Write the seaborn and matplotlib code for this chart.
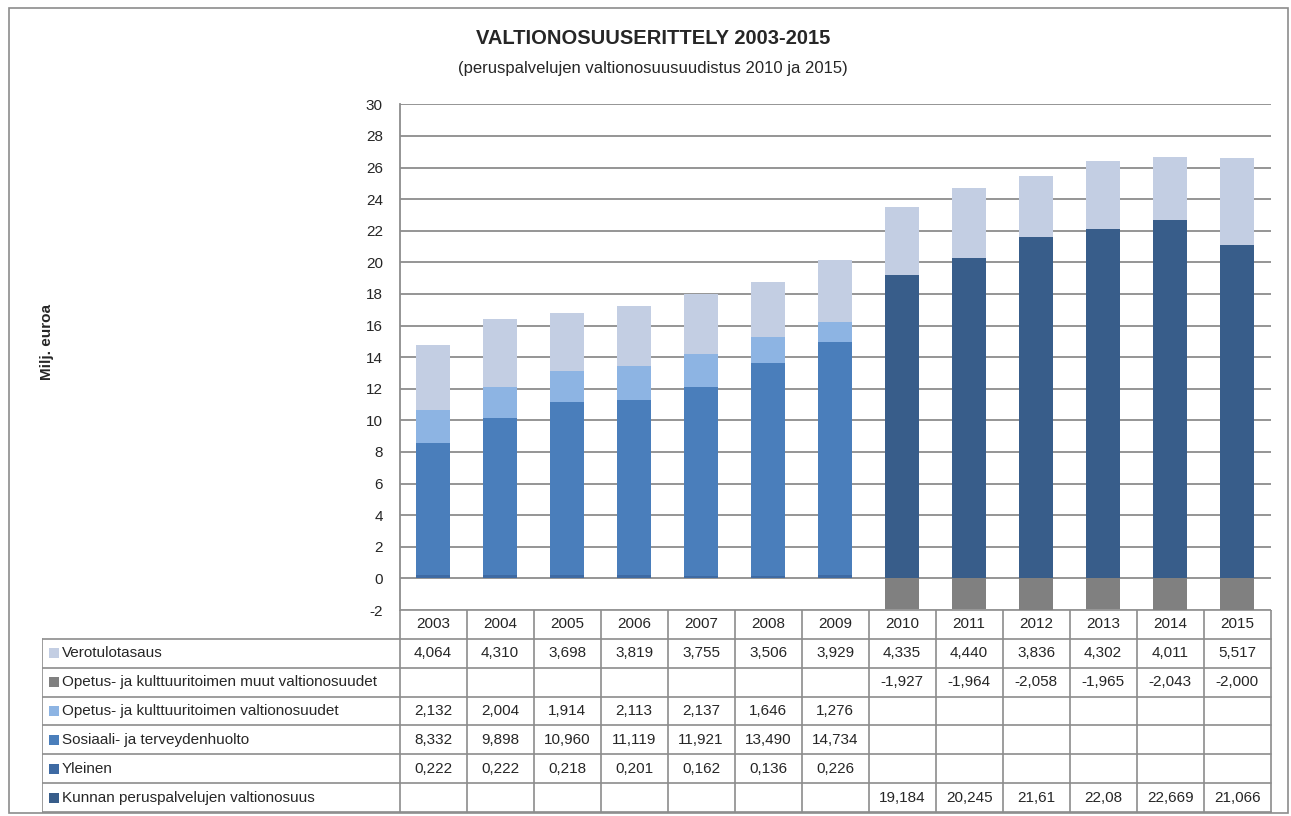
# valtionosuudet 2003-2015, stacked bars + Excel-style data table underneath
import numpy as np
import pandas as pd
import matplotlib
matplotlib.use("Agg")
import matplotlib.pyplot as plt
from matplotlib.patches import Rectangle
import seaborn as sns

years = ["2003", "2004", "2005", "2006", "2007", "2008", "2009",
         "2010", "2011", "2012", "2013", "2014", "2015"]

# series values (milj. euroa), None = no value that year
verotulotasaus = [4.064, 4.310, 3.698, 3.819, 3.755, 3.506, 3.929,
                  4.335, 4.440, 3.836, 4.302, 4.011, 5.517]
opetus_muut = [None, None, None, None, None, None, None,
               -1.927, -1.964, -2.058, -1.965, -2.043, -2.000]
opetus_vo = [2.132, 2.004, 1.914, 2.113, 2.137, 1.646, 1.276,
             None, None, None, None, None, None]
sosiaali = [8.332, 9.898, 10.960, 11.119, 11.921, 13.490, 14.734,
            None, None, None, None, None, None]
yleinen = [0.222, 0.222, 0.218, 0.201, 0.162, 0.136, 0.226,
           None, None, None, None, None, None]
kunnan = [None, None, None, None, None, None, None,
          19.184, 20.245, 21.61, 22.08, 22.669, 21.066]

series_names = ["Verotulotasaus",
                "Opetus- ja kulttuuritoimen muut valtionosuudet",
                "Opetus- ja kulttuuritoimen valtionosuudet",
                "Sosiaali- ja terveydenhuolto",
                "Yleinen",
                "Kunnan peruspalvelujen valtionosuus"]
series_vals = [verotulotasaus, opetus_muut, opetus_vo, sosiaali, yleinen, kunnan]
series_colors = ["#C3CEE3", "#808080", "#8DB4E3", "#4A7EBB", "#3E6AA3", "#385D8A"]

title = "VALTIONOSUUSERITTELY 2003-2015"
subtitle = "(peruspalvelujen valtionosuusuudistus 2010 ja 2015)"
ylabel = "Milj. euroa"

sns.set_style("white")
plt.rcParams["font.family"] = ["Liberation Sans", "DejaVu Sans"]
plt.rcParams["axes.unicode_minus"] = False

W, H = 1291, 816
fig = plt.figure(figsize=(W / 100, H / 100), dpi=100)


def px_axes(x0, y0, x1, y1):
    # pixel box (top-left origin) -> figure axes
    return fig.add_axes([x0 / W, 1 - y1 / H, (x1 - x0) / W, (y1 - y0) / H])


PL, PT, PR, PB = 399.5, 104.3, 1270.7, 610.0
ax = px_axes(PL, PT, PR, PB)

arr = lambda s: np.array([np.nan if v is None else v for v in s], dtype=float)
v_vero, v_muut, v_opet, v_sos, v_yl, v_kun = [np.nan_to_num(arr(s)) for s in series_vals]

# cumulative tops, drawn from the top layer down so each one covers the one above
cum_base = v_yl + v_kun
cum_sos = cum_base + v_sos
cum_opet = cum_sos + v_opet
cum_vero = cum_opet + v_vero

layers = [(cum_vero, series_colors[0]), (cum_opet, series_colors[2]),
          (cum_sos, series_colors[3]), (v_kun, series_colors[5]),
          (v_yl, series_colors[4]), (v_muut, series_colors[1])]
for vals, col in layers:
    df = pd.DataFrame({"year": years, "value": vals})
    sns.barplot(data=df, x="year", y="value", color=col, width=0.5,
                saturation=1, linewidth=0, ax=ax, zorder=3)

ax.set_xlim(-0.5, len(years) - 0.5)
ax.set_ylim(-2, 30)
ax.set_yticks(np.arange(-2, 31, 2))
ax.set_xticks([])
ax.set_xlabel("")
ax.set_ylabel("")
ax.grid(axis="y", color="#8C8C8C", linewidth=1.3, zorder=0)
ax.set_axisbelow(True)
for side in ["top", "right", "bottom"]:
    ax.spines[side].set_visible(False)
ax.spines["left"].set_color("#8C8C8C")
ax.spines["left"].set_linewidth(1.3)
ax.tick_params(axis="y", length=0, pad=12, labelsize=11)

# data table
TL, TR = 41.7, PR
row_h = 28.85
tax = px_axes(TL, PB, TR + 1, PB + row_h * 7 + 1)
tax.set_xlim(TL, TR + 1)
tax.set_ylim(PB + row_h * 7 + 1, PB)
tax.axis("off")

col_w = (PR - PL) / len(years)
line_kw = dict(color="#8C8C8C", linewidth=1.2)
# header row with years
tax.plot([PL, PR], [PB, PB], **line_kw)
for i, yr in enumerate(years):
    cx = PL + col_w * (i + 0.5)
    tax.text(cx, PB + row_h / 2, yr, ha="center", va="center", fontsize=11)
# horizontal lines
for r in range(1, 8):
    y = PB + row_h * r
    tax.plot([TL, TR], [y, y], **line_kw)
# vertical lines
tax.plot([TL, TL], [PB + row_h, PB + row_h * 7], **line_kw)
for i in range(len(years) + 1):
    x = PL + col_w * i
    tax.plot([x, x], [PB, PB + row_h * 7], **line_kw)

for r, (name, vals, col) in enumerate(zip(series_names, series_vals, series_colors)):
    yc = PB + row_h * (r + 1.5)
    tax.add_patch(Rectangle((48.5, yc - 5), 10, 10, color=col, linewidth=0))
    tax.text(62, yc, name, ha="left", va="center", fontsize=11)
    for i, v in enumerate(vals):
        if v is None:
            continue
        if name.startswith("Kunnan"):
            s = f"{v:g}"
        else:
            s = f"{v:.3f}"
        tax.text(PL + col_w * (i + 0.5), yc, s.replace(".", ","),
                 ha="center", va="center", fontsize=11)

fig.text(653 / W, 1 - 38 / H, title, ha="center", va="center",
         fontsize=14.5, fontweight="bold")
fig.text(653 / W, 1 - 68 / H, subtitle, ha="center", va="center", fontsize=12)
fig.text(47 / W, 1 - 342 / H, ylabel, ha="center", va="center", rotation=90,
         fontsize=11, fontweight="bold")

fig.patches.append(Rectangle((9 / W, 1 - 813 / H), 1279 / W, 805 / H,
                             transform=fig.transFigure, fill=False,
                             edgecolor="#8C8C8C", linewidth=1.2))

fig.savefig("out.png", dpi=100)
